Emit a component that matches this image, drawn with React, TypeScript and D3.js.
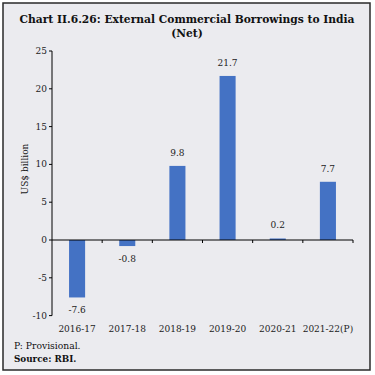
import React from 'react';
import * as d3 from 'd3';

const categories = ['2016-17', '2017-18', '2018-19', '2019-20', '2020-21', '2021-22(P)'];
const values = [-7.6, -0.8, 9.8, 21.7, 0.2, 7.7];
const valueLabels = ['-7.6', '-0.8', '9.8', '21.7', '0.2', '7.7'];
const yTicks = [-10, -5, 0, 5, 10, 15, 20, 25];
const titleLines = ['Chart II.6.26: External Commercial Borrowings to India', '(Net)'];
const yLabel = 'US$ billion';
const footnotes = ['P: Provisional.', 'Source: RBI.'];

const FONT = '"DejaVu Serif", serif';

export default function App() {
  const W = 375, H = 375;
  const left = 52, right = 353;
  const x = d3.scaleBand<string>().domain(categories).range([left, right]).paddingInner(0.68).paddingOuter(0.34);
  const y = d3.scaleLinear().domain([-10, 25]).range([315.6, 51]);
  const step = x.step();
  const bw = x.bandwidth();
  const y0 = y(0);

  return (
    <svg width={W} height={H} style={{ position: 'absolute', left: 0, top: 0, display: 'block' }} fontFamily={FONT}>
      <rect x={3} y={3} width={367} height={367} fill="#EBEBEF" stroke="#2a2a2a" strokeWidth={1.5} />
      {titleLines.map((t, i) => (
        <text key={i} x={187} y={19 + i * 14} textAnchor="middle" dominantBaseline="central" fontWeight="bold" fontSize={10.7} fill="#111">{t}</text>
      ))}
      {/* y axis */}
      <line x1={left} x2={left} y1={y(-10)} y2={y(25)} stroke="#000" strokeWidth={1} />
      {yTicks.map((t) => (
        <g key={t}>
          <line x1={left - 3} x2={left} y1={y(t)} y2={y(t)} stroke="#000" strokeWidth={1} />
          <text x={left - 5} y={y(t)} textAnchor="end" dominantBaseline="central" fontSize={9} fill="#222">{t}</text>
        </g>
      ))}
      <text transform={`translate(25,169) rotate(-90)`} textAnchor="middle" dominantBaseline="central" fontSize={9} fill="#222">{yLabel}</text>
      {/* bars */}
      {categories.map((c, i) => {
        const v = values[i];
        const yTop = Math.min(y(v), y0);
        const h = Math.abs(y(v) - y0);
        return <rect key={c} x={x(c)} y={yTop} width={bw} height={h} fill="#4472C4" />;
      })}
      {/* zero line */}
      <line x1={left} x2={right} y1={y0} y2={y0} stroke="#000" strokeWidth={1} />
      {categories.map((c, i) => (
        <line key={c} x1={left + step * (i + 1)} x2={left + step * (i + 1)} y1={y0} y2={y0 + 3} stroke="#000" strokeWidth={1} />
      ))}
      {/* value labels */}
      {categories.map((c, i) => {
        const v = values[i];
        const ly = v >= 0 ? y(v) - 13 : y(v) + 13;
        return (
          <text key={c} x={(x(c) as number) + bw / 2} y={ly} textAnchor="middle" dominantBaseline="central" fontSize={9} fill="#222">{valueLabels[i]}</text>
        );
      })}
      {/* category labels */}
      {categories.map((c) => (
        <text key={c} x={(x(c) as number) + bw / 2} y={329} textAnchor="middle" dominantBaseline="central" fontSize={9} fill="#222">{c}</text>
      ))}
      <text x={14} y={345} dominantBaseline="central" fontSize={9.2} fill="#111">{footnotes[0]}</text>
      <text x={14} y={359} dominantBaseline="central" fontSize={8.8} fontWeight="bold" fill="#111">{footnotes[1]}</text>
    </svg>
  );
}
